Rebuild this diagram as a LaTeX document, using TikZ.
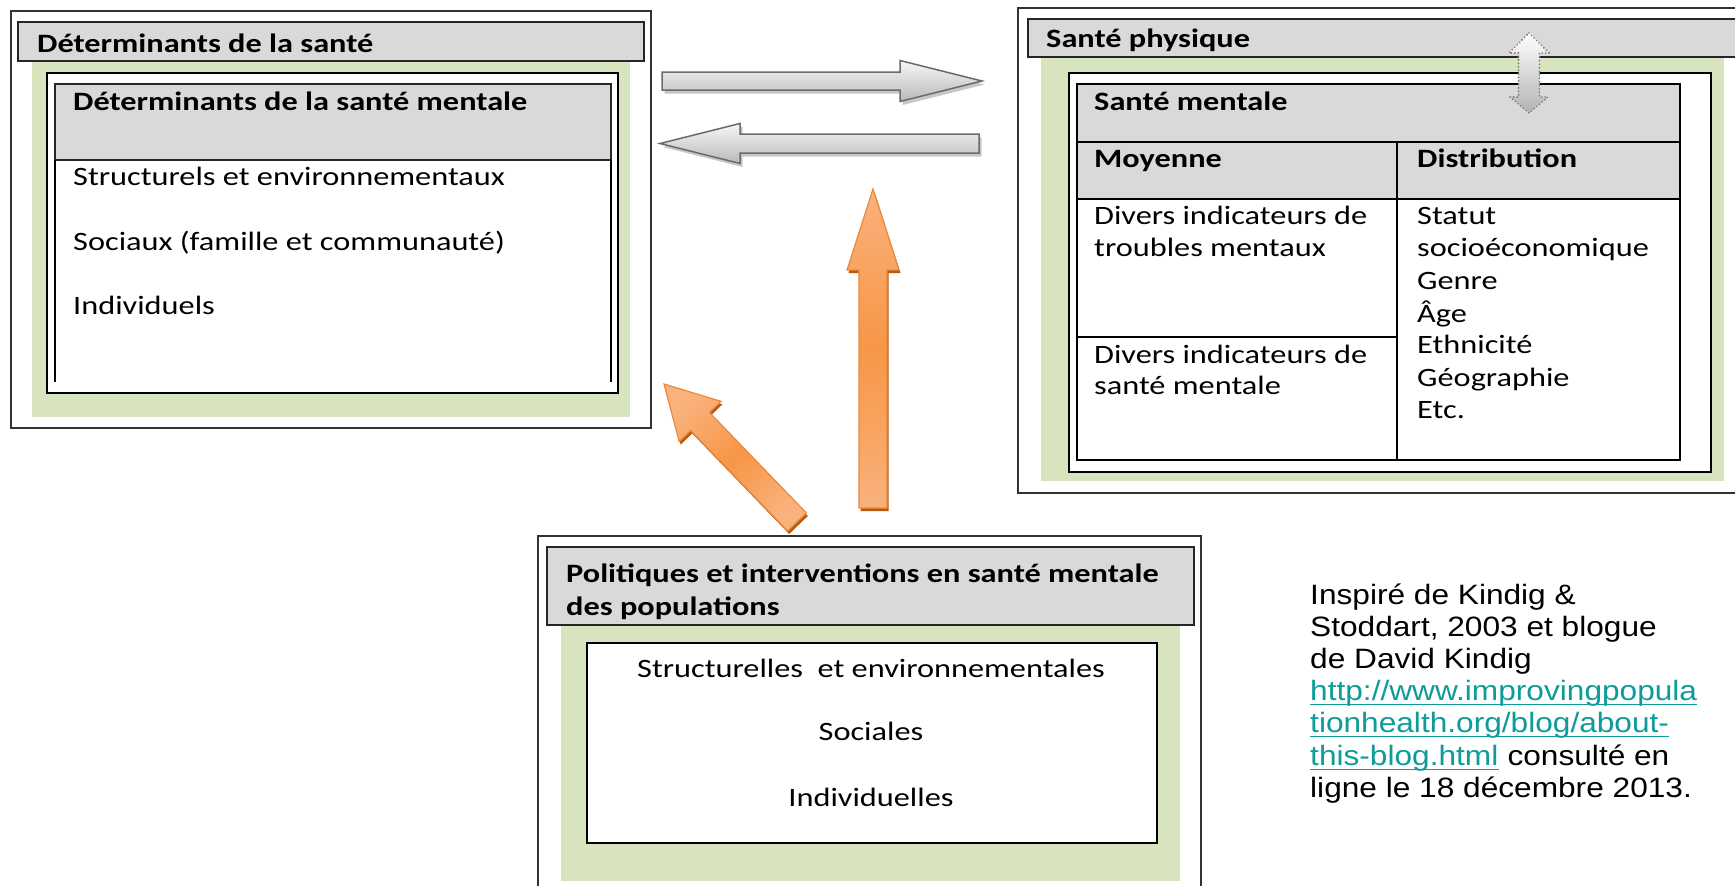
\documentclass[tikz,border=0pt]{standalone}
\usepackage{fontspec}
\newfontfamily\calfont{Carlito}[FakeStretch=1.22]
\newfontfamily\arifont{Liberation Sans}[FakeStretch=1.13]
\usetikzlibrary{calc}
\definecolor{hdrgray}{HTML}{D9D9D9}
\definecolor{olivegreen}{HTML}{D7E4BD}
\definecolor{linkteal}{HTML}{0E9C9A}
\definecolor{orangemain}{HTML}{F79646}
\definecolor{orangelight}{HTML}{F9B27C}
\definecolor{orangeedge}{HTML}{EA8A3E}
\definecolor{orangeshade}{HTML}{B65A12}
\tikzset{
  boxbase/.style={anchor=north west, inner sep=0pt, outer sep=0pt},
  outerbox/.style={boxbase, draw=black!80, line width=1.3pt, fill=white},
  hdrbox/.style={boxbase, draw=black!85, line width=1.3pt, fill=hdrgray},
  greenbox/.style={boxbase, fill=olivegreen},
  whitebox/.style={boxbase, draw=black, line width=1.4pt, fill=white},
  tablebox/.style={boxbase, draw=black, line width=1.4pt},
  tline/.style={draw=black, line width=1.4pt},
  txt/.style={anchor=base west, inner sep=0pt, font=\calfont\fontsize{26.5}{32.5}\selectfont},
  btxt/.style={txt, font=\calfont\bfseries\fontsize{26.5}{32.5}\selectfont},
  ctxt/.style={txt, anchor=base},
  cite/.style={anchor=base west, inner sep=0pt, font=\arifont\fontsize{28}{32}\selectfont},
  citelink/.style={cite, text=linkteal},
  grayarrow/.style={draw=black!58, line width=1.5pt, top color=gray!6, bottom color=gray!55},
  grayshadow/.style={fill=black!22},
  orangearrow/.style={draw=orangeedge, line width=1.2pt, top color=orangelight, bottom color=orangelight, middle color=orangemain},
  orangeshadow/.style={fill=orangeshade},
  dotarrow/.style={draw=black!55, line width=1.8pt, dash pattern=on 0.1pt off 3.4pt, line cap=round, top color=white, bottom color=gray!60},
}
% #1 style, #2 tail, #3 tip, #4 shaft half width, #5 head half width, #6 head length
\newcommand\blockarrow[6]{%
  \coordinate (ba) at ($(#3)!#6!(#2)$);
  \path[#1] ($(#2)!#4!90:(#3)$) -- ($(ba)!#4!90:(#3)$) -- ($(ba)!#5!90:(#3)$) -- (#3)
    -- ($(ba)!#5!-90:(#3)$) -- ($(ba)!#4!-90:(#3)$) -- ($(#2)!#4!-90:(#3)$) -- cycle;}
\begin{document}
\begin{tikzpicture}[x=1pt,y=-1pt]
\useasboundingbox (0,0) rectangle (1735,886);
\fill[white] (0,0) rectangle (1735,886);

% ---------- Déterminants de la santé ----------
\node[outerbox, minimum width=640pt, minimum height=417pt] (detouter) at (11,11) {};
\node[greenbox, minimum width=598pt, minimum height=356pt] (detgreen) at (32,61) {};
\node[whitebox, minimum width=571pt, minimum height=320pt] (detwhite) at (47,73) {};
\node[hdrbox, minimum width=556pt, minimum height=76pt] (dettblhdr) at (55,84) {};
\draw[tline] (dettblhdr.south west) -- ++(0,222);
\draw[tline] (dettblhdr.south east) -- ++(0,222);
\node[hdrbox, minimum width=626pt, minimum height=39pt] (dethdr) at (18,22) {};
\node[btxt] (dettitle) at (37,52) {Déterminants de la santé};
\node[btxt] (dsmtitle) at (73,110) {Déterminants de la santé mentale};
\node[txt] (dsm1) at (73,185) {Structurels et environnementaux};
\node[txt] (dsm2) at (73,250) {Sociaux (famille et communauté)};
\node[txt] (dsm3) at (73,314) {Individuels};

% ---------- Santé physique ----------
\node[outerbox, minimum width=760pt, minimum height=485pt] (phyouter) at (1018,8) {};
\node[greenbox, minimum width=683pt, minimum height=424pt] (phygreen) at (1041,57) {};
\node[whitebox, minimum width=642pt, minimum height=399pt] (phywhite) at (1069,73) {};
\fill[hdrgray] (1077,84) rectangle (1680,199);
\node[tablebox, minimum width=603pt, minimum height=376pt] (phytbl) at (1077,84) {};
\draw[tline] (1077,142) -- (1680,142);
\draw[tline] (1077,199) -- (1680,199);
\draw[tline] (1397,142) -- (1397,460);
\draw[tline] (1077,337) -- (1397,337);
\node[hdrbox, minimum width=750pt, minimum height=38pt] (phyhdr) at (1028,19) {};
\node[btxt] (phytitle) at (1046,47) {Santé physique};
\node[btxt] (smtitle) at (1094,110) {Santé mentale};
\node[btxt] (moy) at (1094,167) {Moyenne};
\node[btxt] (dist) at (1417,167) {Distribution};
\node[txt] (moy1a) at (1094,224) {Divers indicateurs de};
\node[txt] (moy1b) at (1094,256) {troubles mentaux};
\node[txt] (moy2a) at (1094,363) {Divers indicateurs de};
\node[txt] (moy2b) at (1094,394) {santé mentale};
\foreach \t/\yy [count=\i] in {Statut/224, socioéconomique/256, Genre/289, Âge/322, Ethnicité/353, Géographie/386, Etc./418}
  \node[txt] (dist\i) at (1417,\yy) {\t};

% ---------- Politiques ----------
\node[outerbox, minimum width=663pt, minimum height=380pt] (polouter) at (538,536) {};
\node[greenbox, minimum width=619pt, minimum height=256pt] (polgreen) at (561,625) {};
\node[whitebox, minimum width=570pt, minimum height=200pt] (polwhite) at (587,643) {};
\node[hdrbox, minimum width=647pt, minimum height=78pt] (polhdr) at (547,547) {};
\node[btxt] (poltitle1) at (566,582) {Politiques et interventions en santé mentale};
\node[btxt] (poltitle2) at (566,615) {des populations};
\node[ctxt] (pol1) at (871,677) {Structurelles~ et environnementales};
\node[ctxt] (pol2) at (871,740) {Sociales};
\node[ctxt] (pol3) at (871,806) {Individuelles};

% ---------- Citation ----------
\node[cite] (c1) at (1310,604) {Inspiré de Kindig \&};
\node[cite] (c2) at (1310,636) {Stoddart, 2003 et blogue};
\node[cite] (c3) at (1310,668) {de David Kindig};
\node[citelink] (c4) at (1310,700) {http://www.improvingpopula};
\node[citelink] (c5) at (1310,732) {tionhealth.org/blog/about-};
\node[citelink] (c6a) at (1310,765) {this-blog.html};
\node[cite] (c6b) at (c6a.base east) {\ consulté en};
\node[cite] (c7) at (1310,797) {ligne le 18 décembre 2013.};
\foreach \n in {c4,c5,c6a}
  \draw[linkteal, line width=1.6pt] ($(\n.base west)+(0,4.5)$) -- ($(\n.base east)+(0,4.5)$);

% ---------- Arrows ----------
\coordinate (grTail) at (662,81);   \coordinate (grTip) at (982,81);
\coordinate (glTail) at (979,143.5); \coordinate (glTip) at (660,143.5);
\coordinate (ovTail) at (873,508);  \coordinate (ovTip) at (873,189);
\coordinate (odTail) at (797,522);  \coordinate (odTip) at (664,384);

\begin{scope}[transform canvas={shift={(2.5,3.5)}}]
  \blockarrow{grayshadow}{grTail}{grTip}{9pt}{20.5pt}{82pt}
  \blockarrow{grayshadow}{glTail}{glTip}{9.5pt}{20pt}{80pt}
\end{scope}
\blockarrow{grayarrow}{grTail}{grTip}{9pt}{20.5pt}{82pt}
\blockarrow{grayarrow}{glTail}{glTip}{9.5pt}{20pt}{80pt}

\begin{scope}[transform canvas={shift={(1.5,3)}}]
  \blockarrow{orangeshadow}{ovTail}{ovTip}{14pt}{26pt}{81pt}
  \blockarrow{orangeshadow}{odTail}{odTip}{13pt}{29pt}{52pt}
\end{scope}
\blockarrow{orangearrow}{ovTail}{ovTip}{14pt}{26pt}{81pt}
\blockarrow{orangearrow, shading angle=44}{odTail}{odTip}{13pt}{29pt}{52pt}

% dotted double arrow between Santé physique and Santé mentale
\coordinate (dTop) at (1529,33);
\coordinate (dBot) at (1529,113);
\path[dotarrow] (dTop) -- (1549,53) -- (1539.5,53) -- (1539.5,97) -- (1548,97) -- (dBot)
  -- (1510,97) -- (1518.5,97) -- (1518.5,53) -- (1509,53) -- cycle;
\end{tikzpicture}
\end{document}
